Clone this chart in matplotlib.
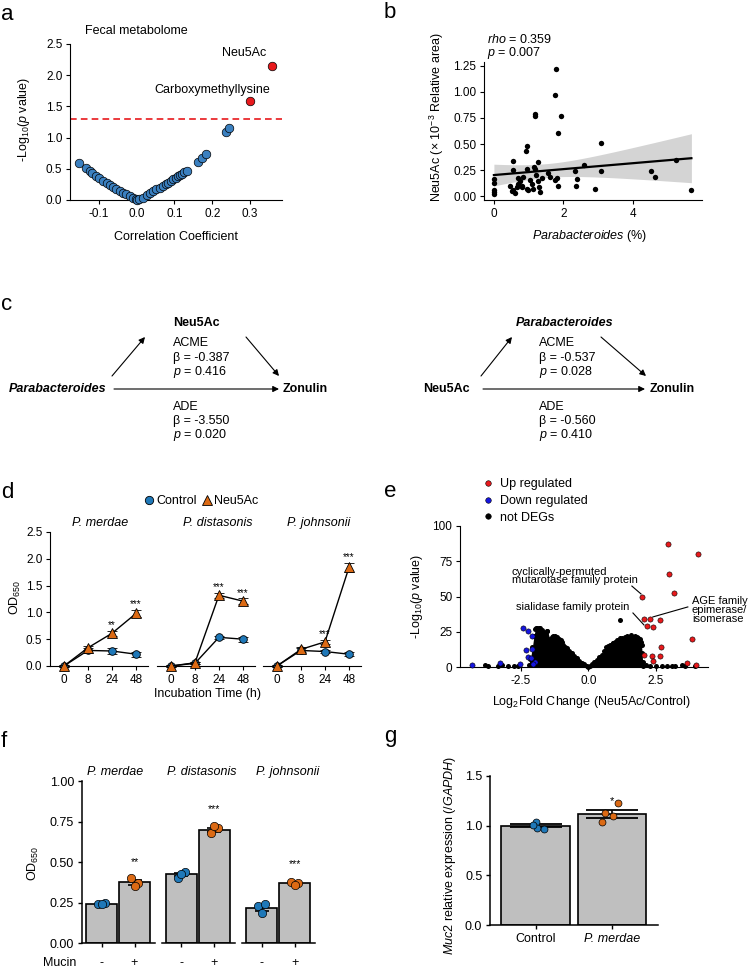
import numpy as np
import matplotlib
matplotlib.use('Agg')
import matplotlib.pyplot as plt
from matplotlib.lines import Line2D

plt.rcParams['font.family'] = ['Liberation Sans', 'DejaVu Sans']
plt.rcParams['mathtext.fontset'] = 'custom'
plt.rcParams['mathtext.rm'] = 'Liberation Sans'
plt.rcParams['mathtext.it'] = 'Liberation Sans:italic'
plt.rcParams['mathtext.bf'] = 'Liberation Sans:bold'
plt.rcParams['axes.unicode_minus'] = False
plt.rcParams['font.size'] = 9
plt.rcParams['xtick.labelsize'] = 8.5
plt.rcParams['ytick.labelsize'] = 8.5
plt.rcParams['xtick.major.size'] = 3
plt.rcParams['ytick.major.size'] = 3
plt.rcParams['xtick.major.width'] = 0.8
plt.rcParams['ytick.major.width'] = 0.8
plt.rcParams['axes.linewidth'] = 0.8
plt.rcParams['xtick.major.pad'] = 2.5
plt.rcParams['ytick.major.pad'] = 2.5

BLUE_A = '#3b80c0'
BLUE = '#1f78b8'
ORANGE = '#dc6a14'
RED = '#e8191c'
GREY = '#bfbfbf'

# ---------------- data ----------------
# panel a
a_x_blue = [-0.153, -0.135, -0.125, -0.118, -0.108, -0.100, -0.089, -0.080, -0.072, -0.063,
            -0.054, -0.045, -0.036, -0.028, -0.019, -0.010, -0.003, 0.000, 0.005, 0.017,
            0.026, 0.034, 0.043, 0.052, 0.061, 0.070, 0.077, 0.083, 0.090, 0.096,
            0.103, 0.110, 0.115, 0.120, 0.126, 0.132, 0.163, 0.172, 0.183, 0.236, 0.245]
a_y_blue = [0.60, 0.52, 0.47, 0.44, 0.39, 0.35, 0.30, 0.27, 0.24, 0.21,
            0.17, 0.15, 0.12, 0.09, 0.06, 0.03, 0.01, 0.00, 0.02, 0.04,
            0.08, 0.11, 0.14, 0.17, 0.20, 0.23, 0.26, 0.28, 0.31, 0.33,
            0.36, 0.39, 0.40, 0.42, 0.45, 0.47, 0.61, 0.67, 0.74, 1.09, 1.15]
a_x_red = [0.300, 0.358]
a_y_red = [1.59, 2.15]
a_red_labels = ['Carboxymethyllysine', 'Neu5Ac']
a_threshold = 1.3

# panel b
b_x = [1.78, 1.75, 1.17, 1.18, 1.94, 1.84, 0.96, 0.92, 3.07, 0.54, 1.28, 0.95, 0.56, 5.25,
       2.60, 2.32, 3.07, 4.52, 4.62, 2.36, 2.40, 2.90, 5.68, 0.00, 0.00, 0.00, 0.00, 0.00,
       0.46, 0.56, 0.61, 0.65, 0.70, 0.75, 0.80, 0.85, 0.94, 0.99, 1.12, 1.09, 1.04, 1.19,
       1.21, 1.28, 1.31, 1.33, 1.37, 1.57, 1.62, 1.76, 1.83, 1.81, 0.70, 0.80, 0.52, 1.15]
b_y = [1.22, 0.97, 0.79, 0.77, 0.77, 0.61, 0.48, 0.43, 0.51, 0.34, 0.33, 0.26, 0.25, 0.35,
       0.30, 0.24, 0.24, 0.24, 0.18, 0.10, 0.16, 0.07, 0.06, 0.16, 0.13, 0.06, 0.04, 0.02,
       0.10, 0.06, 0.03, 0.09, 0.12, 0.14, 0.10, 0.18, 0.07, 0.06, 0.07, 0.12, 0.15, 0.26,
       0.20, 0.14, 0.09, 0.04, 0.17, 0.22, 0.18, 0.15, 0.10, 0.17, 0.17, 0.09, 0.05, 0.28]

# panel c
c_left = dict(x='Parabacteroides', m='Neu5Ac', y='Zonulin',
              acme=('-0.387', '0.416'), ade=('-3.550', '0.020'))
c_right = dict(x='Neu5Ac', m='Parabacteroides', y='Zonulin',
               acme=('-0.537', '0.028'), ade=('-0.560', '0.410'))

# panel d
d_times = ['0', '8', '24', '48']
d_strains = ['P. merdae', 'P. distasonis', 'P. johnsonii']
d_ctrl = [[0.0, 0.29, 0.28, 0.22], [0.0, 0.05, 0.535, 0.50], [0.0, 0.29, 0.27, 0.22]]
d_ctrl_err = [[0.02, 0.04, 0.05, 0.05], [0.01, 0.02, 0.03, 0.05], [0.01, 0.04, 0.03, 0.04]]
d_neu = [[0.0, 0.34, 0.61, 0.98], [0.0, 0.06, 1.32, 1.21], [0.0, 0.31, 0.45, 1.84]]
d_neu_err = [[0.02, 0.04, 0.05, 0.06], [0.01, 0.02, 0.05, 0.05], [0.01, 0.04, 0.04, 0.08]]
d_stars = [['', '', '**', '***'], ['', '', '***', '***'], ['', '', '***', '***']]

# panel e
e_env_x = [-2.22, -2.15, -2.08, -2.02, -1.97, -1.92, -1.86, -1.80, -1.74, -1.66, -1.58, -1.52,
           -1.43, -1.34, -1.24, -1.16, -1.08, -0.99, -0.93, -0.86, -0.80, -0.71, -0.62, -0.52,
           -0.43, -0.34, -0.25, -0.15, -0.06, 0.00, 0.06, 0.12, 0.21, 0.31, 0.40, 0.50, 0.57,
           0.64, 0.72, 0.80, 0.90, 0.99, 1.08, 1.18, 1.27, 1.36, 1.45, 1.55, 1.64, 1.73, 1.80,
           1.86, 1.92, 1.96, 1.98, 2.00, 2.02, 2.04]
e_env_y = [1.5, 6, 14, 22, 27, 28, 27, 28, 26, 24, 23, 25.5,
           20, 21, 22, 21, 19.6, 17.5, 15.6, 14.5, 13.2, 11.5, 9.7, 8,
           6.1, 4.5, 3, 1.8, 0.7, 0.2, 0.8, 2.1, 3.5, 5, 6.8, 8.5, 11,
           14.4, 15, 15.6, 17, 18, 19, 20.3, 20.5, 21.5, 22, 21.5, 21, 22, 21.5,
           20.5, 19.9, 18, 15.6, 9.7, 3.8, 0.7]
e_ns_x = [1.18, -1.52, -1.95, -1.85, -1.75, -3.84, -3.72, -3.35, -3.22, -2.97, -2.60, -2.75,
          2.73, 2.91, 3.10, 3.22, 3.47, 3.59, 3.97, 2.15, 2.30, 2.50, -1.30, -1.00, 0.90, 1.60]
e_ns_y = [33.3, 25.5, 28, 27.5, 26.5, 1.2, 1.0, 1.0, 1.2, 1.0, 0.8, 0.5,
          0.8, 1.0, 1.0, 0.8, 1.2, 0.8, 1.0, 1.5, 1.0, 0.7, 22, 19, 17, 23]
e_down_x = [-4.31, -3.28, -2.54, -2.42, -2.26, -2.11, -2.33, -2.11, -2.23, -2.14, -2.00, -2.05]
e_down_y = [1.7, 2.6, 1.9, 27.4, 25.5, 22.2, 12.1, 12.5, 7.3, 6.1, 3.3, 2.0]
e_up_x = [2.95, 4.06, 2.99, 3.17, 2.00, 2.07, 2.29, 2.66, 2.17, 2.42, 3.84, 2.69, 2.08,
          2.38, 2.66, 2.39, 4.00, 3.68]
e_up_y = [87, 80, 66, 52.5, 49.6, 33.8, 33.8, 33.3, 29.3, 28.6, 19.9, 14.2, 8.3,
          7.8, 7.8, 4.5, 1.4, 2.6]
e_labels = ['cyclically-permuted\nmutarotase family protein', 'sialidase family protein',
            'AGE family\nepimerase/\nisomerase']

# panel f
f_strains = ['P. merdae', 'P. distasonis', 'P. johnsonii']
f_mucin = ['-', '+']
f_minus = [0.245, 0.425, 0.22]
f_plus = [0.375, 0.70, 0.37]
f_minus_err = [0.005, 0.011, 0.018]
f_plus_err = [0.015, 0.012, 0.007]
f_minus_dots = [[0.24, 0.25, 0.245], [0.405, 0.44, 0.425], [0.23, 0.245, 0.185]]
f_plus_dots = [[0.40, 0.373, 0.35], [0.68, 0.71, 0.72], [0.38, 0.37, 0.36]]
f_stars = ['**', '***', '***']

# panel g
g_groups = ['Control', 'P. merdae']
g_vals = [1.0, 1.117]
g_err = [0.012, 0.04]
g_dots = [[1.04, 0.973, 0.967, 1.006], [1.23, 1.123, 1.096, 1.033]]
g_stars = ['', '*']

# ---------------- figure ----------------
W, H = 750, 969
fig = plt.figure(figsize=(W / 100, H / 100), dpi=100)

ov = fig.add_axes([0, 0, 1, 1])
ov.set_xlim(0, W)
ov.set_ylim(H, 0)
ov.axis('off')


def px_axes(l, t, r, b):
    return fig.add_axes([l / W, 1 - b / H, (r - l) / W, (b - t) / H])


def style(ax, left=True):
    ax.spines['top'].set_visible(False)
    ax.spines['right'].set_visible(False)
    ax.patch.set_alpha(0)
    if not left:
        ax.spines['left'].set_visible(False)
        ax.tick_params(axis='y', left=False, labelleft=False)


# panel letters
for letter, x, y in [('a', 1, 20), ('b', 384, 18), ('c', 1, 310), ('d', 1, 498),
                     ('e', 384, 497), ('f', 1, 747), ('g', 384, 742)]:
    ov.text(x, y, letter, fontsize=16, ha='left', va='baseline')

# ---------- a ----------
ax = px_axes(70, 44, 282, 200)
style(ax)
ax.set_xlim(-0.177, 0.385)
ax.set_ylim(0, 2.5)
ax.axhline(a_threshold, color=RED, ls=(0, (4, 2.5)), lw=1.2, zorder=1)
ax.scatter(a_x_blue, a_y_blue, s=38, c=BLUE_A, edgecolors='black', linewidths=0.5,
           zorder=3, clip_on=False)
ax.scatter(a_x_red, a_y_red, s=38, c=RED, edgecolors='black', linewidths=0.5, zorder=3,
           clip_on=False)
for xv, yv, lab, off in zip(a_x_red, a_y_red, a_red_labels, [(-27, 8), (-20, 9.5)]):
    ax.annotate(lab, (xv, yv), xytext=off, textcoords='offset points', ha='center',
                va='center', fontsize=9)
ax.set_xticks([-0.1, 0.0, 0.1, 0.2, 0.3])
ax.set_xticklabels(['-0.1', '0.0', '0.1', '0.2', '0.3'])
ax.set_yticks([0, 0.5, 1.0, 1.5, 2.0, 2.5])
ax.set_yticklabels(['0.0', '0.5', '1.0', '1.5', '2.0', '2.5'])
ov.text(136, 31, 'Fecal metabolome', ha='center', va='center', fontsize=9)
ov.text(24, 119, r'-Log$_{10}$($\mathit{p}$ value)', rotation=90, ha='center', va='center', fontsize=9)
ov.text(176, 237, 'Correlation Coefficient', ha='center', va='center', fontsize=9)

# ---------- b ----------
ax = px_axes(484, 62, 702, 200)
style(ax)
bx = np.array(b_x)
by = np.array(b_y)
slope, intercept = np.polyfit(bx, by, 1)
xs = np.linspace(bx.min(), bx.max(), 100)
n = len(bx)
resid = by - (slope * bx + intercept)
s_err = np.sqrt(np.sum(resid ** 2) / (n - 2))
se = s_err * np.sqrt(1 / n + (xs - bx.mean()) ** 2 / np.sum((bx - bx.mean()) ** 2))
fit = slope * xs + intercept
ax.fill_between(xs, fit - 2.006 * se, fit + 2.006 * se, color='#d4d4d4', lw=0, zorder=1)
ax.plot(xs, fit, color='black', lw=1.6, zorder=2)
ax.scatter(bx, by, s=15, c='black', lw=0, zorder=3)
ax.set_xlim(-0.285, 5.985)
ax.set_ylim(-0.038, 1.288)
ax.set_xticks([0, 2, 4])
ax.set_yticks([0, 0.25, 0.5, 0.75, 1.0, 1.25])
ax.set_yticklabels(['0.00', '0.25', '0.50', '0.75', '1.00', '1.25'])
ov.text(487, 39, r'$\mathit{rho}$ = 0.359', ha='left', va='center', fontsize=9)
ov.text(487, 53, r'$\mathit{p}$ = 0.007', ha='left', va='center', fontsize=9)
ov.text(437, 117, r'Neu5Ac ($\times$ 10$^{-3}$ Relative area)', rotation=90,
        ha='center', va='center', fontsize=9)
ov.text(590, 236, r'$\mathit{Parabacteroides}$ (%)', ha='center', va='center', fontsize=9)

# ---------- c ----------
def med_diagram(d, xl, xm, xy_z, xs_acme, arrow_h, up, down):
    ov.text(xm, 323, d['m'], ha='center', va='center', fontsize=9, fontweight='bold',
            fontstyle='italic' if d['m'] == 'Parabacteroides' else 'normal')
    ov.text(xl, 389, d['x'], ha='left', va='center', fontsize=9, fontweight='bold',
            fontstyle='italic' if d['x'] == 'Parabacteroides' else 'normal')
    ov.text(xy_z, 389, d['y'], ha='left', va='center', fontsize=9, fontweight='bold')
    ov.text(xs_acme, 343, 'ACME', ha='left', va='center', fontsize=9)
    ov.text(xs_acme, 358, '\u03b2 = ' + d['acme'][0], ha='left', va='center', fontsize=9)
    ov.text(xs_acme, 372, r'$\mathit{p}$ = ' + d['acme'][1], ha='left', va='center', fontsize=9)
    ov.text(xs_acme, 407, 'ADE', ha='left', va='center', fontsize=9)
    ov.text(xs_acme, 421, '\u03b2 = ' + d['ade'][0], ha='left', va='center', fontsize=9)
    ov.text(xs_acme, 435, r'$\mathit{p}$ = ' + d['ade'][1], ha='left', va='center', fontsize=9)
    for (x0, y0, x1, y1) in [arrow_h, up, down]:
        ov.annotate('', xy=(x1, y1), xytext=(x0, y0),
                    arrowprops=dict(arrowstyle='-|>', color='black', lw=0.8,
                                    mutation_scale=9, shrinkA=0, shrinkB=0))


med_diagram(c_left, 9, 196, 283, 173, (114, 389, 279, 389), (112, 376, 145, 337),
            (246, 337, 279, 376))
med_diagram(c_right, 423, 565, 650, 539, (483, 389, 645, 389), (481, 376, 512, 337),
            (601, 337, 646, 376))

# ---------- d ----------
d_left = [50, 157, 263]
for i in range(3):
    ax = px_axes(d_left[i], 532, d_left[i] + 98, 666)
    style(ax, left=(i == 0))
    xs_d = np.arange(len(d_times))
    ax.errorbar(xs_d, d_ctrl[i], yerr=d_ctrl_err[i], color='black', lw=1, capsize=3.5,
                capthick=1, marker='o', ms=5.5, mfc=BLUE, mec='black', mew=0.6,
                zorder=3, clip_on=False)
    ax.errorbar(xs_d, d_neu[i], yerr=d_neu_err[i], color='black', lw=1, capsize=3.5,
                capthick=1, marker='^', ms=7, mfc=ORANGE, mec='black', mew=0.6,
                zorder=4, clip_on=False)
    for j, st in enumerate(d_stars[i]):
        if st:
            ax.annotate(st, (j, d_neu[i][j] + d_neu_err[i][j]), xytext=(0, 0.5),
                        textcoords='offset points', ha='center', va='bottom', fontsize=7)
    ax.set_xlim(-0.58, 3.5)
    ax.set_ylim(0, 2.5)
    ax.set_xticks(xs_d)
    ax.set_xticklabels(d_times)
    if i == 0:
        ax.set_yticks([0, 0.5, 1.0, 1.5, 2.0, 2.5])
        ax.set_yticklabels(['0.0', '0.5', '1.0', '1.5', '2.0', '2.5'])
for xc, name in zip([100, 218, 319], d_strains):
    ov.text(xc, 523, name, ha='center', va='center', fontsize=9, fontstyle='italic')
ov.text(15, 597, r'OD$_{650}$', rotation=90, ha='center', va='center', fontsize=9)
ov.text(207, 694, 'Incubation Time (h)', ha='center', va='center', fontsize=9)
d_handles = [Line2D([], [], ls='', marker='o', ms=6, mfc=BLUE, mec='black', mew=0.6),
             Line2D([], [], ls='', marker='^', ms=7.5, mfc=ORANGE, mec='black', mew=0.6)]
fig.legend(d_handles, ['Control', 'Neu5Ac'], loc='center', ncol=2,
           bbox_to_anchor=(201 / W, 1 - 501 / H), frameon=False, fontsize=9,
           handlelength=0.9, handletextpad=0.15, columnspacing=0.3, borderpad=0)

# ---------- e ----------
ax = px_axes(460, 526, 708, 667)
style(ax)
ax.fill_between(e_env_x, 0, e_env_y, color='black', lw=0, zorder=2)
ax.scatter(e_env_x, e_env_y, s=13, c='black', lw=0, zorder=3, clip_on=False)
ax.scatter(e_ns_x, e_ns_y, s=13, c='black', lw=0, zorder=3, clip_on=False)
ax.scatter(e_down_x, e_down_y, s=14, c='#1515e0', edgecolors='black', linewidths=0.4,
           zorder=4, clip_on=False)
ax.scatter(e_up_x, e_up_y, s=14, c=RED, edgecolors='black', linewidths=0.4,
           zorder=4, clip_on=False)
ax.set_xlim(-4.77, 4.45)
ax.set_ylim(0, 100)
ax.set_xticks([-2.5, 0, 2.5])
ax.set_xticklabels(['-2.5', '0.0', '2.5'])
ax.set_yticks([0, 25, 50, 75, 100])
ax.text(-2.84, 64.5, e_labels[0], ha='left', va='center', fontsize=8, linespacing=0.85)
ax.plot([1.62, 1.96], [57.4, 51.8], color='black', lw=0.8)
ax.text(-2.69, 42.6, e_labels[1], ha='left', va='center', fontsize=8)
ax.plot([1.66, 2.07], [38.3, 29.8], color='black', lw=0.8)
ax.text(3.85, 40.4, e_labels[2], ha='left', va='center', fontsize=8, linespacing=0.85,
        clip_on=False)
ax.plot([3.70, 2.40], [42.6, 35.5], color='black', lw=0.8, clip_on=False)
ov.text(417, 596, r'-Log$_{10}$($\mathit{p}$ value)', rotation=90, ha='center', va='center', fontsize=9)
ov.text(592, 702, r'Log$_2$Fold Change (Neu5Ac/Control)', ha='center', va='center', fontsize=9)
e_handles = [Line2D([], [], ls='', marker='o', ms=4, mfc=c, mec='black', mew=0.4)
             for c in [RED, '#1515e0', 'black']]
fig.legend(e_handles, ['Up regulated', 'Down regulated', 'not DEGs'], loc='upper left',
           bbox_to_anchor=(470 / W, 1 - 467 / H), frameon=False, fontsize=9,
           handlelength=1.0, handletextpad=0.5, labelspacing=0.38, borderpad=0.4)

# ---------- f ----------
f_c0 = [101.5, 181.3, 261.7]
f_jit = [-0.1, 0.1, 0.0]
for i in range(3):
    left = f_c0[i] - 0.6 * 33
    ax = px_axes(left, 781, left + 2.23 * 33, 943.3)
    style(ax, left=(i == 0))
    for sp in ['left', 'bottom']:
        ax.spines[sp].set_linewidth(1.1)
    ax.tick_params(width=1.0)
    vals = [f_minus[i], f_plus[i]]
    errs = [f_minus_err[i], f_plus_err[i]]
    ax.bar([0, 1], vals, width=0.93, color=GREY, edgecolor='black', lw=1.2, zorder=2)
    ax.errorbar([0, 1], vals, yerr=errs, fmt='none', ecolor='black', elinewidth=1.2,
                capsize=5, capthick=1.2, zorder=3)
    ax.plot(np.array([0, 0, 0]) + np.array(f_jit), f_minus_dots[i], ls='', marker='o',
            ms=6, mfc=BLUE, mec='black', mew=0.5, zorder=4)
    ax.plot(np.array([1, 1, 1]) + np.array(f_jit), f_plus_dots[i], ls='', marker='o',
            ms=6, mfc=ORANGE, mec='black', mew=0.5, zorder=4)
    ax.annotate(f_stars[i], (1, f_plus[i] + f_plus_err[i]), xytext=(0, 9.5),
                textcoords='offset points', ha='center', va='bottom', fontsize=7.5)
    ax.set_xlim(-0.6, 1.63)
    ax.set_ylim(0, 1.0)
    ax.set_xticks([0, 1])
    ax.set_xticklabels(f_mucin, fontsize=9)
    ax.tick_params(axis='x', pad=7)
    if i == 0:
        ax.set_yticks([0, 0.25, 0.5, 0.75, 1.0])
        ax.set_yticklabels(['0.00', '0.25', '0.50', '0.75', '1.00'], fontsize=9)
for xc, name in zip([115, 202, 288], f_strains):
    ov.text(xc, 772, name, ha='center', va='center', fontsize=9, fontstyle='italic')
ov.text(33, 863, r'OD$_{650}$', rotation=90, ha='center', va='center', fontsize=9)
ov.text(43, 963, 'Mucin', ha='left', va='center', fontsize=9)

# ---------- g ----------
ax = px_axes(490, 775.7, 657.7, 925.3)
style(ax)
for sp in ['left', 'bottom']:
    ax.spines[sp].set_linewidth(1.1)
ax.tick_params(width=1.0)
ax.bar([0, 1], g_vals, width=0.9, color=GREY, edgecolor='black', lw=1.2, zorder=2)
ax.errorbar([0, 1], g_vals, yerr=g_err, fmt='none', ecolor='black', elinewidth=1.2,
            capsize=19, capthick=1.3, zorder=3)
g_jit = [[0.0, 0.02, 0.11, -0.04], [0.08, -0.09, 0.01, -0.13]]
g_cols = [BLUE, ORANGE]
for k in range(2):
    ax.plot(np.full(len(g_dots[k]), k) + np.array(g_jit[k]), g_dots[k], ls='', marker='o',
            ms=5, mfc=g_cols[k], mec='black', mew=0.5, zorder=4)
    if g_stars[k]:
        ax.annotate(g_stars[k], (k, g_vals[k] + g_err[k]), xytext=(0, 3),
                    textcoords='offset points', ha='center', va='bottom', fontsize=8)
ax.set_xlim(-0.6, 1.6)
ax.set_ylim(0, 1.5)
ax.set_xticks([0, 1])
ax.set_xticklabels(g_groups, fontsize=9)
ax.get_xticklabels()[1].set_fontstyle('italic')
ax.set_yticks([0, 0.5, 1.0, 1.5])
ax.set_yticklabels(['0.0', '0.5', '1.0', '1.5'], fontsize=9)
ov.text(450, 855, r'$\mathit{Muc2}$ relative expression ($\mathit{/GAPDH}$)', rotation=90,
        ha='center', va='center', fontsize=9)

fig.savefig('out.png', dpi=100)
